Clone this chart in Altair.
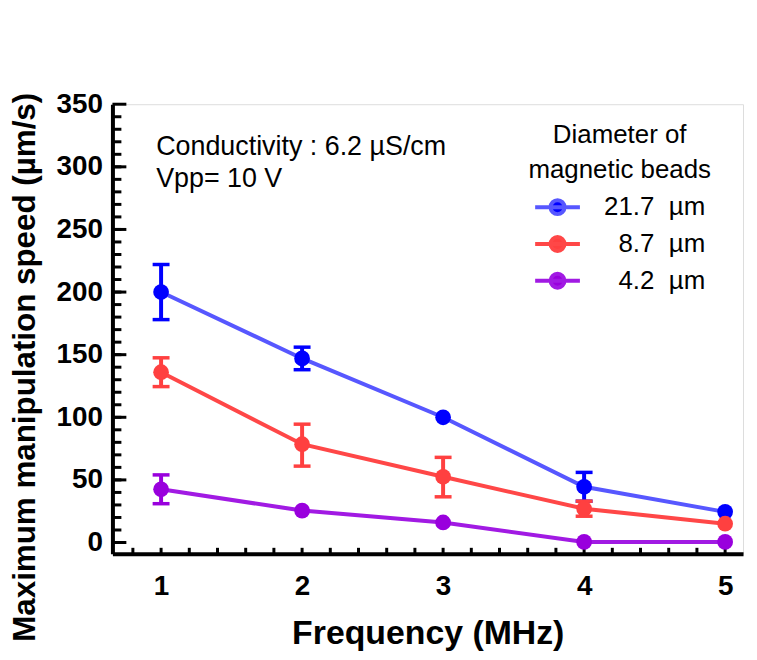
import altair as alt
import pandas as pd

# ---------------- data ----------------
FREQ = [1, 2, 3, 4, 5]
SIZE_LABELS = ["21.7\u00a0\u00a0µm", "8.7\u00a0\u00a0µm", "4.2\u00a0\u00a0µm"]

SPEED_217 = [200, 147, 100, 44.5, 24.5]
LO_217 = [178, 138, None, 33, None]
HI_217 = [222, 156, None, 56, None]

SPEED_87 = [136, 78.5, 52.5, 27, 15]
LO_87 = [124.5, 61, 36.5, 21, None]
HI_87 = [147.5, 94.5, 68, 33, None]

SPEED_42 = [42.5, 25.5, 16, 0.5, 0.5]
LO_42 = [31, None, None, None, None]
HI_42 = [54, None, None, None, None]

Y_MAJOR = [0, 50, 100, 150, 200, 250, 300, 350]
Y_MINOR = [0, 10, 20, 30, 40, 50, 60, 70, 80, 90, 100, 110, 120, 130, 140, 150,
           160, 170, 180, 190, 200, 210, 220, 230, 240, 250, 260, 270, 280, 290,
           300, 310, 320, 330, 340]
X_MINOR = [0.8, 1.0, 1.2, 1.4, 1.6, 1.8, 2.0, 2.2, 2.4, 2.6, 2.8, 3.0, 3.2, 3.4,
           3.6, 3.8, 4.0, 4.2, 4.4, 4.6, 4.8, 5.0]

ANNOT_TEXT = "Conductivity : 6.2 µS/cm\nVpp= 10 V"

LINE_COLORS = ["#5757ff", "#ff4747", "#a11ae3"]
MARK_COLORS = ["#0000ff", "#ff4040", "#9900dd"]

# ---------------- tables ----------------
rows = []
for lab, sp, lo, hi in [
    (SIZE_LABELS[0], SPEED_217, LO_217, HI_217),
    (SIZE_LABELS[1], SPEED_87, LO_87, HI_87),
    (SIZE_LABELS[2], SPEED_42, LO_42, HI_42),
]:
    for f, s, l, h in zip(FREQ, sp, lo, hi):
        rows.append({"freq": f, "speed": s, "lo": l, "hi": h, "size": lab})
df = pd.DataFrame(rows)
df_err = df.dropna(subset=["lo", "hi"])

FONT = "Liberation Sans"
W, H = 634, 452

xscale = alt.Scale(domain=[0.655, 5.127], nice=False, zero=False)
yscale = alt.Scale(domain=[-9, 350], nice=False, zero=False)

xaxis = alt.Axis(values=FREQ, title="Frequency (MHz)", ticks=False, tickSize=0,
                 domainWidth=4, domainColor="black", grid=False,
                 labelFont=FONT, labelFontSize=28, labelFontWeight="bold",
                 labelColor="black", labelPadding=19, labelFlush=False,
                 titleFont=FONT, titleFontSize=34, titleFontWeight="bold",
                 titleColor="black", titlePadding=16)
yaxis = alt.Axis(values=Y_MAJOR, title="Maximum manipulation speed (µm/s)",
                 ticks=False, tickSize=0, domainWidth=4, domainColor="black",
                 grid=False, labelFont=FONT, labelFontSize=28,
                 labelFontWeight="bold", labelColor="black", labelPadding=10,
                 labelFlush=False,
                 titleFont=FONT, titleFontSize=31.5, titleFontWeight="bold",
                 titleColor="black", titlePadding=15, titleY=264)


def X(field):
    return alt.X(field, type="quantitative", scale=xscale, axis=xaxis)


def Y(field):
    return alt.Y(field, type="quantitative", scale=yscale, axis=yaxis)


SYMBOL = ("M-1.8,0L1.8,0M-0.56,0A0.56,0.56,0,1,1,0.56,0"
          "A0.56,0.56,0,1,1,-0.56,0Z")

legend = alt.Legend(
    orient="none", legendX=418, legendY=18, padding=0,
    title=["Diameter of", "magnetic beads"], titleFont=FONT, titleFontSize=26,
    titleFontWeight="normal", titleColor="black", titleAlign="center",
    titleAnchor="middle", titleLineHeight=35, titlePadding=10, titleLimit=400,
    labelFont=FONT, labelFontSize=26, labelColor="black", labelOffset=134,
    labelAlign="right",
    symbolType=SYMBOL, symbolSize=625, symbolStrokeWidth=4, symbolOffset=10,
    rowPadding=6, labelLimit=300,
)

stroke_enc = alt.Stroke("size:N", scale=alt.Scale(domain=SIZE_LABELS, range=LINE_COLORS),
                        legend=legend)
fill_enc = alt.Fill("size:N", scale=alt.Scale(domain=SIZE_LABELS, range=MARK_COLORS),
                    legend=legend)
color_enc = alt.Color("size:N", scale=alt.Scale(domain=SIZE_LABELS, range=MARK_COLORS),
                      legend=None)

ymin = alt.Chart(pd.DataFrame({"speed": Y_MINOR})).mark_rule(
    color="black", strokeWidth=3).encode(y=Y("speed"), x=alt.value(0), x2=alt.value(9))
ymaj = alt.Chart(pd.DataFrame({"speed": Y_MAJOR})).mark_rule(
    color="black", strokeWidth=3).encode(y=Y("speed"), x=alt.value(0), x2=alt.value(14))
xmin = alt.Chart(pd.DataFrame({"freq": X_MINOR})).mark_rule(
    color="black", strokeWidth=3).encode(x=X("freq"), y=alt.value(H - 6), y2=alt.value(H))

lines = alt.Chart(df).mark_line(strokeWidth=4).encode(
    x=X("freq"), y=Y("speed"), stroke=stroke_enc)

err_v = alt.Chart(df_err).mark_rule(strokeWidth=4).encode(
    x=X("freq"), y=Y("lo"), y2="hi", color=color_enc)
cap_lo = alt.Chart(df_err).mark_rule(strokeWidth=3.5, xOffset=-8.5, x2Offset=8.5).encode(
    x=X("freq"), x2="freq", y=Y("lo"), color=color_enc)
cap_hi = alt.Chart(df_err).mark_rule(strokeWidth=3.5, xOffset=-8.5, x2Offset=8.5).encode(
    x=X("freq"), x2="freq", y=Y("hi"), color=color_enc)

points = alt.Chart(df).mark_point(filled=True, size=250, opacity=1, shape="circle",
                                  strokeWidth=0).encode(
    x=X("freq"), y=Y("speed"), fill=fill_enc)

annot = alt.Chart(pd.DataFrame({"t": [ANNOT_TEXT]})).mark_text(
    align="left", baseline="top", font=FONT, fontSize=27, lineHeight=32,
    color="black", lineBreak="\n").encode(
    x=alt.X(datum=0.965, scale=xscale, axis=xaxis),
    y=alt.Y(datum=326, scale=yscale, axis=yaxis),
    text="t:N")

chart = alt.layer(ymin, ymaj, xmin, lines, err_v, cap_lo, cap_hi, points, annot).properties(
    width=W, height=H,
    autosize=alt.AutoSizeParams(type="none"),
    padding={"left": 105, "top": 95, "right": 6, "bottom": 96},
).configure_view(stroke="black", strokeWidth=3).configure(background="white")

chart.save("out.html", embed_options={"renderer": "svg", "actions": False})
